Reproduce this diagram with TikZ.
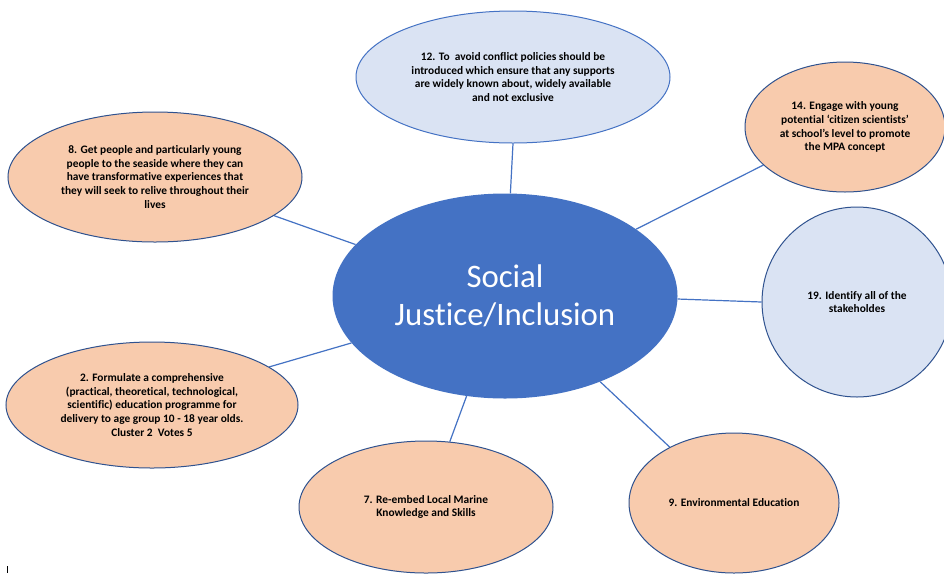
\documentclass[tikz,border=0pt]{standalone}
\usepackage{fontspec}
\setmainfont{Carlito}[Ligatures=NoCommon]
\usetikzlibrary{shapes.geometric,backgrounds}
\definecolor{hub}{HTML}{4472C4}
\definecolor{peach}{HTML}{F8CBAD}
\definecolor{pale}{HTML}{DAE3F3}
\definecolor{rim}{HTML}{2F528F}
\begin{document}
\begin{tikzpicture}[x=1pt,y=-1pt,
  idea/.style={ellipse, draw=rim, line width=1pt, inner sep=0pt, align=center,
    font=\fontsize{11.4}{13.8}\selectfont\bfseries, text=black},
  warm/.style={idea, fill=peach},
  cool/.style={idea, fill=pale},
  link/.style={draw=hub, line width=1.2pt}]
\useasboundingbox (0,0) rectangle (944,574);

\node[ellipse, fill=hub, inner sep=0pt, minimum width=345pt, minimum height=205pt,
  text=white, font=\fontsize{32.8}{38}\selectfont, align=center] (hubnode) at (505,296)
  {Social\\Justice/Inclusion};

\node[cool, draw=hub, minimum width=314pt, minimum height=132pt] (n12) at (513,77)
  {12. To\ \ avoid conflict policies should be\\introduced which ensure that any supports\\are widely known about, widely available\\and not exclusive};
\node[warm, minimum width=294pt, minimum height=130pt] (n8) at (155,177)
  {8. Get people and particularly young\\people to the seaside where they can\\have transformative experiences that\\they will seek to relive throughout their\\lives};
\node[warm, minimum width=200pt, minimum height=130pt] (n14) at (845,127)
  {14. Engage with young\\potential ‘citizen scientists’\\at school’s level to promote\\the MPA concept};
\node[cool, minimum width=190pt, minimum height=190pt] (n19) at (857,302)
  {19. Identify all of the\\stakeholdes};
\node[warm, minimum width=292pt, minimum height=126pt] (n2) at (152,405)
  {2. Formulate a comprehensive\\(practical, theoretical, technological,\\scientific) education programme for\\delivery to age group 10 - 18 year olds.\\Cluster 2\ \ Votes 5};
\node[warm, minimum width=254pt, minimum height=132pt] (n7) at (426,507)
  {7. Re-embed Local Marine\\Knowledge and Skills};
\node[warm, minimum width=210pt, minimum height=140pt] (n9) at (734,503)
  {9. Environmental Education};

\begin{scope}[on background layer]
  \fill[white] (0,0) rectangle (944,574);
  \draw[link] (hubnode.87) -- (n12.-90);
  \draw[link] (hubnode.161) -- (n8.-18);
  \draw[link] (hubnode.27) -- (n14.-155);
  \draw[link] (hubnode.-1) -- (n19.180);
  \draw[link] (hubnode.197) -- (n2.18);
  \draw[link] (hubnode.249) -- (n7.70);
  \draw[link] (hubnode.-42) -- (n9.139);
\end{scope}

\draw[black, line width=0.8pt] (7,566) -- (7,573);
\end{tikzpicture}
\end{document}
